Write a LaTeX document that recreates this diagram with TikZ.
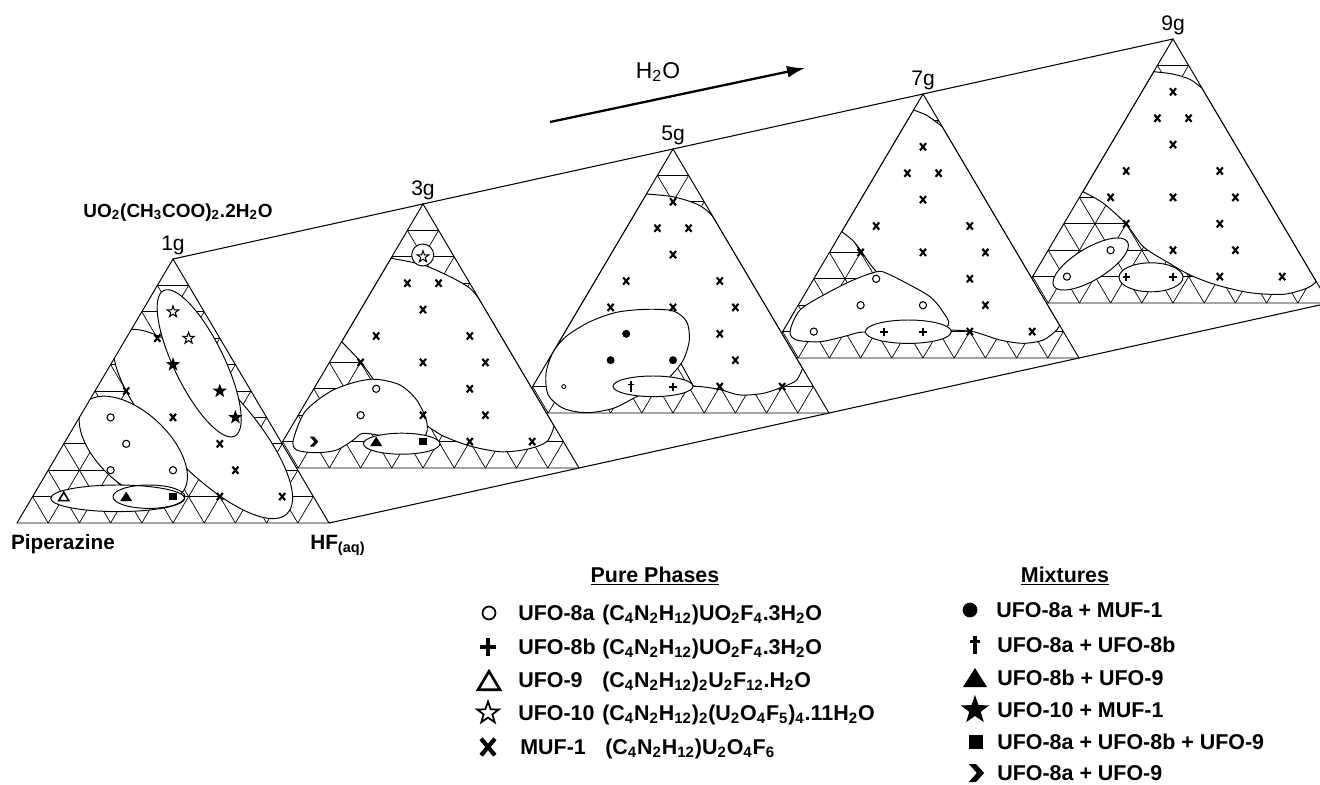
\documentclass[tikz,border=0pt]{standalone}
\usepackage{fontspec}
\setmainfont{Liberation Sans}
\setsansfont{Liberation Sans}
\usetikzlibrary{arrows.meta, positioning}

\newcommand{\chsub}[1]{\textsubscript{#1}}
\newcommand{\trigrid}{% white face and the 10-step grid
  \fill[white] (0,0) -- (-156,264) -- (156,264) -- cycle;
  \foreach \k in {1,...,9}{%
    \draw[gridline] ({-15.6*\k},{26.4*\k}) -- ({15.6*\k},{26.4*\k});
    \draw[gridline] ({-156+31.2*\k},264) -- ({15.6*\k},{26.4*\k});
    \draw[gridline] ({-156+31.2*\k},264) -- ({-156+15.6*\k},{264-26.4*\k});
  }%
}
\newcommand{\triclip}{\clip (0,0) -- (-156,264) -- (156,264) -- cycle;}
\newcommand{\drawtri}{\draw[trioutline] (0,0) -- (-156,264) -- (156,264) -- cycle;}
\newcommand{\putmarks}[2]{\foreach \i/\j in {#2} {\pic at ({15.6*\i},{26.4*\j}) {#1};}}

\tikzset{
  gridline/.style={line width=0.4pt},
  trioutline/.style={line width=0.55pt},
  prismline/.style={line width=0.6pt},
  phase/.style={draw, fill=white, line width=0.55pt},
  mkline/.style={line width=1.2pt},
  ringline/.style={line width=0.6pt},
  opentri/.style={line width=0.9pt, line join=miter},
  starline/.style={line width=0.6pt},
  dagline/.style={line width=1pt},
  mufx/.pic={\draw[mkline] (-3,-3.6) -- (3,3.6) (-3,3.6) -- (3,-3.6);},
  ufoa/.pic={\draw[ringline] (0,0) circle (3.6);},
  ufoasmall/.pic={\draw[line width=0.5pt] (0,0) circle (2);},
  ufob/.pic={\draw[mkline] (-3.6,0) -- (3.6,0) (0,-4) -- (0,4);},
  ufonine/.pic={\draw[opentri] (0,-4.4) -- (5,4) -- (-5,4) -- cycle;},
  ufoten/.pic={\draw[starline] (270:6) -- (306:2.4) -- (342:6) -- (18:2.4) -- (54:6)
      -- (90:2.4) -- (126:6) -- (162:2.4) -- (198:6) -- (234:2.4) -- cycle;},
  mixdot/.pic={\fill (0,0) circle (4);},
  mixdag/.pic={\draw[dagline] (0,-5.5) -- (0,5.5) (-3,-2.2) -- (3,-2.2);},
  mixtri/.pic={\fill (0,-5) -- (6,4.5) -- (-6,4.5) -- cycle;},
  mixstar/.pic={\fill (270:7.5) -- (306:3) -- (342:7.5) -- (18:3) -- (54:7.5)
      -- (90:3) -- (126:7.5) -- (162:3) -- (198:7.5) -- (234:3) -- cycle;},
  mixsq/.pic={\fill (-3.6,-3.6) rectangle (3.6,3.6);},
  mixchev/.pic={\fill (-4,-5) -- (0,-5) -- (4.5,0) -- (0,5) -- (-4,5) -- (0.5,0) -- cycle;},
  glabel/.style={font={\fontsize{12}{14}\selectfont}, inner sep=0pt, anchor=base},
  axislbl/.style={font={\fontsize{11.8}{14}\selectfont\bfseries}, inner sep=0pt, anchor=base},
  headlbl/.style={font={\fontsize{12.2}{14}\selectfont\bfseries}, inner sep=0pt, anchor=base},
  legname/.style={font={\fontsize{12.2}{14}\selectfont\bfseries}, inner sep=0pt, anchor=base west},
  waterarrow/.style={line width=1.3pt, -{Latex[length=0.36cm, width=0.24cm]}},
}

\begin{document}
\begin{tikzpicture}[x=0.02cm, y=-0.02cm, font=\sffamily]
\clip (0,0) rectangle (1320,785);

% prism edges
\coordinate (apex1) at (173,259);
\coordinate (apex9) at (1173,39);
\coordinate (corner1) at (329,523);
\coordinate (corner9) at (1329,303);
\draw[prismline] (apex1) -- (apex9);
\draw[prismline] (corner1) -- (corner9);

% 9g
\begin{scope}[shift={(1173,39)}]
  \trigrid
  \begin{scope}
    \triclip
    \filldraw[phase] plot[smooth] coordinates {(-19.3,32.7) (-0.4,35) (16.8,40.3) (29.1,49.3)}
      -- (143.4,242.7)
      -- plot[smooth] coordinates {(143.4,242.7) (133.7,249.3) (110.3,255.3) (77,253.7) (43.7,246)
         (17,236) (-6.3,222.7) (-29.7,207.7) (-46.9,185) (-70,164) (-90.2,152.7)}
      -- cycle;
    \filldraw[phase, rotate around={31:(-82.3,225)}] (-82.3,225) ellipse [x radius=43, y radius=16];
    \filldraw[phase] (-22,238.3) ellipse [x radius=32, y radius=14.5];
    \putmarks{mufx}{0/2, -1/3, 1/3, 0/4, -3/5, 3/5, -4/6, 0/6, 4/6, -3/7, 3/7, 0/8, 4/8, 3/9, 7/9}
    \putmarks{ufoa}{-4/8, -6.8/9}
    \putmarks{ufob}{-3/9, 0/9}
  \end{scope}
  \drawtri
\end{scope}

% 7g
\begin{scope}[shift={(923,94)}]
  \trigrid
  \begin{scope}
    \triclip
    \filldraw[phase] plot[smooth] coordinates {(-9.5,16) (4,21.5) (19.3,32.7)}
      -- (136.5,231)
      -- plot[smooth] coordinates {(136.5,231) (133.7,236) (120.3,246) (100.3,249.3) (77,246) (50.3,237.7) (26,236)}
      -- (-10,205)
      -- plot[smooth] coordinates {(-46.6,177.7) (-53.5,169.3) (-62.1,156.7) (-70.7,146) (-81.4,137.7)}
      -- cycle;
    \filldraw[phase] plot[smooth cycle] coordinates {(-133,237.7) (-123,216) (-96.3,199.3) (-69.7,186)
      (-46.3,177.7) (-36.3,179.3) (-13,191) (7,202.7) (18.7,216) (25.3,231) (0,241) (-30,241)
      (-59.7,238) (-79.7,242.7) (-103,247.7) (-126.3,246)};
    \filldraw[phase] (-14.7,237.7) ellipse [x radius=43, y radius=11.7];
    \putmarks{mufx}{0/2, -1/3, 1/3, 0/4, -3/5, 3/5, -4/6, 0/6, 4/6, 3/7, 4/8, 3/9, 7/9}
    \putmarks{ufoa}{-3/7, -4/8, 0/8, -7/9}
    \putmarks{ufob}{-2.5/9, 0/9}
  \end{scope}
  \drawtri
\end{scope}

% 5g
\begin{scope}[shift={(673,149)}]
  \trigrid
  \begin{scope}
    \triclip
    \filldraw[phase] plot[smooth] coordinates {(-26.6,45) (-0.3,47.7) (23.7,55) (37,64.3) (43.5,73.7)}
      -- (129.6,219.3)
      -- plot[smooth] coordinates {(129.6,219.3) (123.7,231) (112,237) (90.3,244.3) (67,246) (48.7,241)
         (33.7,238.3) (20.3,237)}
      -- (0,200) -- (-60,175) -- (-100,190) -- (-114,193) -- cycle;
    \filldraw[phase] plot[smooth cycle] coordinates {(-106.3,187) (-83,172.7) (-56.3,163.3) (-26.3,160.3)
      (0.3,162) (13.7,172.7) (16.3,191) (10.3,211) (-3,227.7) (-16.3,239.3) (-36.3,247.7) (-59.7,259.3)
      (-86.3,263.7) (-109.7,259.3) (-124.7,246) (-127,224.3) (-119.7,202.7)};
    \filldraw[phase] (-20,237.3) ellipse [x radius=40, y radius=10.3];
    \putmarks{mufx}{0/2, -1/3, 1/3, 0/4, -3/5, 3/5, -4/6, 0/6, 4/6, 3/7, 4/8, 3/9, 7/9}
    \putmarks{mixdot}{-3/7, -4/8, 0/8}
    \putmarks{ufoasmall}{-7/9}
    \putmarks{mixdag}{-2.7/9}
    \putmarks{ufob}{0/9}
  \end{scope}
  \drawtri
\end{scope}

% 3g
\begin{scope}[shift={(423,204)}]
  \trigrid
  \begin{scope}
    \triclip
    \filldraw[phase] plot[smooth] coordinates {(-32.1,54.3) (0.3,61) (30.3,74.3) (47,84.3) (55.7,94.3)}
      -- (131.2,222)
      -- plot[smooth] coordinates {(131.2,222) (123.7,237.7) (103.7,245.3) (77,247.7) (47,242) (20.3,232) (5.3,222.7)}
      -- (-16.3,206) -- (-43,186)
      -- plot[smooth] coordinates {(-49.7,175.3) (-63,157) (-81.4,137.7)}
      -- cycle;
    \filldraw[phase] plot[smooth cycle] coordinates {(-129.7,236) (-118,207.7) (-93,187.7) (-66.3,177.7)
      (-46.3,175.3) (-23,181) (-6.3,196) (3.7,217.7) (0.3,232.7) (-33,232.7) (-59.7,229.3) (-69.7,236)
      (-86.3,246) (-106.3,248.7) (-126.3,246)};
    \filldraw[phase] (-0.3,51) circle (11);
    \filldraw[phase] (-21.3,239.7) ellipse [x radius=38.3, y radius=10.5];
    \putmarks{mufx}{-1/3, 1/3, 0/4, -3/5, 3/5, -4/6, 0/6, 4/6, 3/7, 0/8, 4/8, 3/9, 7/9}
    \putmarks{ufoa}{-3/7, -4/8}
    \putmarks{ufoten}{0/2}
    \putmarks{mixchev}{-7/9}
    \putmarks{mixtri}{-3/9}
    \putmarks{mixsq}{0/9}
  \end{scope}
  \drawtri
\end{scope}

% 1g
\begin{scope}[shift={(173,259)}]
  \trigrid
  \begin{scope}
    \triclip
    \filldraw[phase, rotate around={-47:(30,165)}] (30,165) ellipse [x radius=123, y radius=43];
    \filldraw[phase, rotate around={-43:(-39.7,189.3)}] (-39.7,189.3) ellipse [x radius=66, y radius=36];
    \filldraw[phase, rotate around={-64:(26.2,104.3)}] (26.2,104.3) ellipse [x radius=81, y radius=25];
    \filldraw[phase] (-55.3,239.3) ellipse [x radius=67, y radius=13.3];
    \draw[phase, fill=none] (-24,237.7) ellipse [x radius=36, y radius=11.7];
    \putmarks{ufoten}{0/2, 1/3}
    \putmarks{mixstar}{0/4, 3/5, 4/6}
    \putmarks{mufx}{-1/3, -3/5, 0/6, 3/7, 4/8, 3/9, 7/9}
    \putmarks{ufoa}{-4/6, -3/7, -4/8, 0/8}
    \putmarks{ufonine}{-7/9}
    \putmarks{mixtri}{-3/9}
    \putmarks{mixsq}{0/9}
  \end{scope}
  \drawtri
\end{scope}

% labels of the faces
\node[glabel] (lbl1g) at (173,250) {1g};
\node[glabel] (lbl3g) at (423,195) {3g};
\node[glabel] (lbl5g) at (673,140) {5g};
\node[glabel] (lbl7g) at (923,85) {7g};
\node[glabel] (lbl9g) at (1173,30) {9g};
\node[axislbl, font={\fontsize{10.8}{13}\selectfont\bfseries}] (uac) at (178,217)
  {UO\chsub{2}(CH\chsub{3}COO)\chsub{2}.2H\chsub{2}O};
\node[axislbl] (pip) at (63,549) {Piperazine};
\node[axislbl, anchor=base west] (hf) at (310,549) {HF\chsub{(aq)}};

% water arrow
\coordinate (h2otail) at (550,122);
\coordinate (h2ohead) at (805,68);
\draw[waterarrow] (h2otail) -- (h2ohead);
\node[glabel, font={\fontsize{13}{15}\selectfont}] (h2o) at (658,78) {H\textsubscript{2}O};

% legend, pure phases
\node[headlbl] (purehead) at (655,582) {\underline{Pure Phases}};
\pic[scale=1.8, ringline/.style={line width=1pt}] at (489,613) {ufoa};
\node[legname] (name8a) at (518,620.5) {UFO-8a};
\node[legname] (form8a) at (602,620.5) {(C\chsub{4}N\chsub{2}H\chsub{12})UO\chsub{2}F\chsub{4}.3H\chsub{2}O};
\pic[scale=2.3, mkline/.style={line width=2.6pt}] at (488,647) {ufob};
\node[legname] (name8b) at (518,654.5) {UFO-8b};
\node[legname] (form8b) at (602,654.5) {(C\chsub{4}N\chsub{2}H\chsub{12})UO\chsub{2}F\chsub{4}.3H\chsub{2}O};
\pic[scale=2.2, opentri/.style={line width=1.5pt, line join=miter}] at (489,681) {ufonine};
\node[legname] (name9) at (518,687.5) {UFO-9};
\node[legname] (form9) at (602,687.5) {(C\chsub{4}N\chsub{2}H\chsub{12})\chsub{2}U\chsub{2}F\chsub{12}.H\chsub{2}O};
\pic[scale=1.9, starline/.style={line width=1pt}] at (488,713) {ufoten};
\node[legname] (name10) at (518,720.5) {UFO-10};
\node[legname] (form10) at (602,720.5) {(C\chsub{4}N\chsub{2}H\chsub{12})\chsub{2}(U\chsub{2}O\chsub{4}F\chsub{5})\chsub{4}.11H\chsub{2}O};
\pic[scale=2.3, mkline/.style={line width=2.4pt}] at (488,747) {mufx};
\node[legname] (namemuf) at (520,754.5) {MUF-1};
\node[legname] (formmuf) at (605,754.5) {(C\chsub{4}N\chsub{2}H\chsub{12})U\chsub{2}O\chsub{4}F\chsub{6}};

% legend, mixtures
\node[headlbl] (mixhead) at (1065,582) {\underline{Mixtures}};
\pic[scale=1.85] at (970,610) {mixdot};
\node[legname] (mixa) at (996,617.5) {UFO-8a + MUF-1};
\pic[scale=1.55, dagline/.style={line width=1.8pt}] at (975,645) {mixdag};
\node[legname] (mixb) at (997,652.5) {UFO-8a + UFO-8b};
\pic[scale=2] at (975,678) {mixtri};
\node[legname] (mixc) at (997,685.5) {UFO-8b + UFO-9};
\pic[scale=2] at (975,710) {mixstar};
\node[legname] (mixd) at (997,717.5) {UFO-10 + MUF-1};
\pic[scale=2] at (976,742) {mixsq};
\node[legname] (mixe) at (997,749.5) {UFO-8a + UFO-8b + UFO-9};
\pic[scale=1.8] at (976,773) {mixchev};
\node[legname] (mixf) at (997,780.5) {UFO-8a + UFO-9};
\end{tikzpicture}
\end{document}
